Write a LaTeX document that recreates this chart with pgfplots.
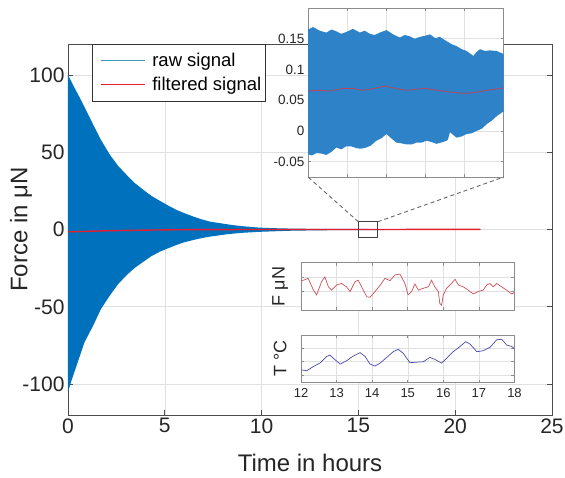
\documentclass[border=0pt]{standalone}
\usepackage{pgfplots}
\pgfplotsset{compat=1.18}
\usepackage{fontspec}
\setmainfont{Liberation Sans}
\definecolor{mblue}{RGB}{0,114,189}
\definecolor{rawleg}{RGB}{60,150,180}
\definecolor{fred}{RGB}{228,30,45}
\definecolor{insblue}{RGB}{45,130,200}
\definecolor{insred}{RGB}{185,70,90}
\definecolor{fsred}{RGB}{205,80,90}
\definecolor{tblue}{RGB}{75,75,175}
\begin{document}
\begin{tikzpicture}[x=1pt,y=1pt]
\useasboundingbox (0,0) rectangle (565,477);
% ---------------- main axis ----------------
\begin{axis}[
  at={(68pt,62pt)}, anchor=south west, scale only axis,
  width=484pt, height=371pt,
  xmin=0, xmax=25, ymin=-120, ymax=120,
  xtick={0,5,10,15,20,25}, ytick={-100,-50,0,50,100},
  /pgf/number format/assume math mode=true,
  tick label style={font=\fontsize{21}{21}\selectfont, text=black!85},
  xlabel={Time in hours}, ylabel={Force in μN},
  label style={font=\fontsize{24}{24}\selectfont, text=black!85},
  xlabel style={at={(axis description cs:0.5,-0.129)}, anchor=center},
  ylabel style={at={(axis description cs:-0.097,0.5)}, anchor=center},
  grid=major, major grid style={black!12, line width=0.6pt},
  axis line style={black!70, line width=0.7pt},
  tick style={black!70, line width=0.7pt}, major tick length=5pt, tick align=inside,
  legend style={at={(rel axis cs:0.0496,1)}, anchor=north west, draw=black!80,
    line width=0.6pt, fill=white, font=\fontsize{18.5}{20}\selectfont,
    inner xsep=2pt, inner ysep=4pt, row sep=0pt},
  legend cell align=left,
]
\addplot[fill=mblue, draw=none, forget plot] coordinates {
(0,100) (0.3,92.5) (0.62,85) (1.0,75.5) (1.31,67.6) (1.7,58) (2.17,48.2)
(2.6,41) (3.03,35.3) (3.45,30) (3.9,25.6) (4.3,21.8) (4.75,18.5) (5.2,15.3)
(5.6,12.7) (6.0,10.6) (6.47,8.4) (6.9,6.6) (7.33,5.1) (7.8,4.2) (8.2,3.4)
(8.6,2.7) (9.05,2.1) (9.5,1.6) (9.9,1.2) (10.8,0.8) (11.5,0.6) (12.5,0.45)
(14,0.35) (17,0.3) (21.3,0.3)
(21.3,-0.3) (17,-0.3) (14,-0.4) (12.5,-0.6) (11.5,-0.8) (10.8,-1.1) (9.9,-1.5)
(9.5,-1.8) (9.05,-2.1) (8.6,-2.6) (8.2,-3.1) (7.8,-3.8) (7.33,-4.6) (6.9,-5.6)
(6.47,-6.8) (6.0,-8.3) (5.6,-10) (5.2,-12) (4.75,-14.3) (4.3,-17.3) (3.9,-20.8)
(3.45,-24.8) (3.03,-29.5) (2.6,-35.2) (2.17,-42.5) (1.7,-51.5) (1.31,-61.9)
(0.85,-73) (0.45,-87.8) (0.2,-97) (0,-105)
} -- cycle;
\addplot[draw=fred, line width=1.4pt, forget plot] coordinates {
(0,-1.5) (1,-1.2) (2,-0.8) (4,-0.4) (6,-0.1) (10,0) (21.3,0.05)
};
\draw[black!75, line width=1pt] (axis cs:15,-5) rectangle (axis cs:16,5);
\coordinate (rtl) at (axis cs:15,5);
\coordinate (rtr) at (axis cs:16,5);
\addlegendimage{legend image code/.code={
  \path[draw=none, fill=none] (0pt,-12.2pt) rectangle (56pt,12.2pt);
  \draw[draw=rawleg, line width=1pt] (7pt,0pt) -- (51pt,0pt);}}
\addlegendentry{raw signal}
\addlegendimage{legend image code/.code={
  \path[draw=none, fill=none] (0pt,-12.2pt) rectangle (56pt,12.2pt);
  \draw[draw=fred, line width=1pt] (7pt,0pt) -- (51pt,0pt);}}
\addlegendentry{filtered signal}
\end{axis}
% ---------------- zoom inset ----------------
\begin{axis}[
  name=ins, at={(308pt,300pt)}, anchor=south west, scale only axis,
  width=195.7pt, height=169pt,
  xmin=15, xmax=16, ymin=-0.075, ymax=0.2,
  xtick={15,15.2,15.4,15.6,15.8,16}, xticklabels={},
  ytick={-0.05,0,0.05,0.1,0.15}, yticklabels={-0.05,0,0.05,0.1,0.15},
  axis background/.style={fill=white},
  grid=major, major grid style={black!12, line width=0.5pt},
  axis line style={black!45, line width=0.6pt},
  tick style={black!45, line width=0.6pt}, major tick length=3pt, tick align=inside,
  tick label style={font=\fontsize{13.5}{13.5}\selectfont, text=black!85},
]
\addplot[fill=insblue, draw=none] coordinates {
(15.000,0.165) (15.026,0.169) (15.060,0.163) (15.094,0.160) (15.120,0.165) (15.145,0.162)
(15.170,0.158) (15.196,0.161) (15.230,0.166) (15.265,0.160) (15.290,0.163) (15.316,0.158)
(15.340,0.156) (15.367,0.160) (15.401,0.164) (15.435,0.157) (15.469,0.152) (15.495,0.156)
(15.520,0.154) (15.545,0.150) (15.572,0.153) (15.600,0.155) (15.623,0.157) (15.650,0.151)
(15.674,0.153) (15.708,0.146) (15.735,0.141) (15.759,0.138) (15.785,0.133) (15.811,0.130)
(15.845,0.122) (15.860,0.128) (15.879,0.133) (15.905,0.130) (15.930,0.131) (15.964,0.130)
(16.000,0.125)
(16.000,0.032) (15.982,0.028) (15.964,0.024) (15.940,0.017) (15.913,0.011) (15.890,0.004)
(15.862,0.000) (15.835,-0.004) (15.811,-0.005) (15.785,-0.009) (15.759,-0.011) (15.740,-0.006)
(15.725,-0.002) (15.715,-0.014) (15.708,-0.016) (15.680,-0.019) (15.657,-0.021) (15.630,-0.018)
(15.606,-0.016) (15.580,-0.019) (15.555,-0.019) (15.530,-0.022) (15.503,-0.022) (15.475,-0.020)
(15.452,-0.019) (15.425,-0.012) (15.401,-0.005) (15.375,-0.012) (15.349,-0.016) (15.320,-0.024)
(15.298,-0.027) (15.270,-0.029) (15.247,-0.028) (15.220,-0.025) (15.196,-0.025) (15.170,-0.030)
(15.145,-0.027) (15.120,-0.034) (15.094,-0.039) (15.070,-0.037) (15.043,-0.036) (15.020,-0.040)
(15.000,-0.038)
} -- cycle;
\addplot[draw=insred, line width=0.8pt] coordinates {
(15.000,0.065) (15.060,0.066) (15.110,0.065) (15.179,0.069) (15.230,0.069) (15.282,0.066)
(15.340,0.069) (15.392,0.073) (15.450,0.069) (15.503,0.066) (15.560,0.068) (15.606,0.069)
(15.660,0.066) (15.708,0.064) (15.760,0.062) (15.811,0.061) (15.860,0.063) (15.913,0.066)
(15.960,0.068) (16.000,0.070)
};
\end{axis}
\draw[black!60, line width=0.9pt, dash pattern=on 4pt off 3pt] (rtl) -- (ins.south west);
\draw[black!60, line width=0.9pt, dash pattern=on 4pt off 3pt] (rtr) -- (ins.south east);
% ---------------- small inset: force ----------------
\begin{axis}[
  at={(301pt,167pt)}, anchor=south west, scale only axis,
  width=213.5pt, height=47.3pt,
  xmin=12, xmax=18, ymin=0, ymax=1,
  xtick={12,13,14,15,16,17,18}, xticklabels={},
  ytick={0.39,0.70}, yticklabels={},
  axis background/.style={fill=white},
  grid=major, major grid style={black!12, line width=0.5pt},
  axis line style={black!45, line width=0.6pt},
  tick style={black!45, line width=0.6pt}, major tick length=3pt, tick align=inside,
  ylabel={F μN},
  ylabel style={font=\fontsize{18}{18}\selectfont, text=black!85, at={(axis description cs:-0.098,0.5)}, anchor=center},
]
\addplot[draw=fsred, line width=0.7pt] coordinates {
(12.0,0.62) (12.07,0.63) (12.2,0.67) (12.35,0.42) (12.44,0.32) (12.58,0.60) (12.67,0.70)
(12.77,0.49) (12.86,0.42) (13.0,0.53) (13.14,0.56) (13.28,0.49) (13.38,0.39) (13.52,0.60)
(13.61,0.63) (13.75,0.42) (13.85,0.28) (13.94,0.27) (14.08,0.39) (14.22,0.52) (14.36,0.67)
(14.5,0.62) (14.64,0.74) (14.78,0.76) (14.92,0.56) (15.01,0.32) (15.11,0.39) (15.2,0.55)
(15.3,0.42) (15.44,0.46) (15.58,0.49) (15.67,0.63) (15.76,0.49) (15.86,0.39) (15.9,0.14)
(15.95,0.10) (16.0,0.32) (16.09,0.46) (16.23,0.56) (16.33,0.65) (16.42,0.53) (16.56,0.49)
(16.7,0.42) (16.84,0.34) (16.98,0.39) (17.12,0.42) (17.22,0.53) (17.31,0.56) (17.4,0.49)
(17.5,0.56) (17.64,0.49) (17.78,0.42) (17.92,0.34) (18.0,0.37)
};
\end{axis}
% ---------------- small inset: temperature ----------------
\begin{axis}[
  at={(301pt,94.3pt)}, anchor=south west, scale only axis,
  width=213.5pt, height=47.7pt,
  xmin=12, xmax=18, ymin=0, ymax=1,
  xtick={12,13,14,15,16,17,18},
  ytick={0.16,0.44,0.73}, yticklabels={},
  /pgf/number format/assume math mode=true,
  tick label style={font=\fontsize{13}{13}\selectfont, text=black!85},
  xticklabel style={yshift=-2pt},
  axis background/.style={fill=white},
  grid=major, major grid style={black!12, line width=0.5pt},
  axis line style={black!45, line width=0.6pt},
  tick style={black!45, line width=0.6pt}, major tick length=3pt, tick align=inside,
  ylabel={T °C},
  ylabel style={font=\fontsize{18}{18}\selectfont, text=black!85, at={(axis description cs:-0.098,0.5)}, anchor=center},
]
\addplot[draw=tblue, line width=0.7pt] coordinates {
(12.0,0.27) (12.16,0.25) (12.35,0.34) (12.53,0.41) (12.72,0.55) (12.81,0.58) (12.96,0.48)
(13.1,0.39) (13.28,0.46) (13.47,0.56) (13.66,0.63) (13.8,0.55) (13.94,0.39) (14.08,0.35)
(14.22,0.41) (14.41,0.53) (14.59,0.65) (14.73,0.70) (14.87,0.62) (15.06,0.42) (15.25,0.43)
(15.44,0.44) (15.62,0.53) (15.76,0.49) (15.95,0.41) (16.09,0.51) (16.28,0.65) (16.47,0.76)
(16.63,0.86) (16.75,0.81) (16.94,0.65) (17.12,0.67) (17.31,0.74) (17.5,0.90) (17.64,0.91)
(17.78,0.79) (17.92,0.76) (18.0,0.71)
};
\end{axis}
\end{tikzpicture}
\end{document}
